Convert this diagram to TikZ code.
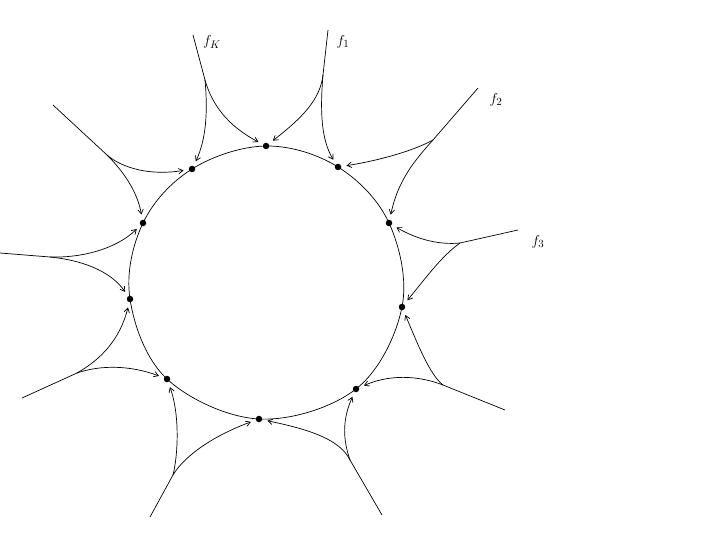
\documentclass[tikz,border=0pt]{standalone}
\usetikzlibrary{arrows.meta}
\begin{document}
\begin{tikzpicture}[x=1pt,y=-1pt,line width=0.7pt,
  dot/.style={circle,fill,inner sep=0pt,minimum size=6.5pt},
  arr/.style={-{Straight Barb[length=4.5pt,width=5.5pt]},shorten >=5pt},
  lbl/.style={font=\fontsize{15}{17}\selectfont}]
\useasboundingbox (0,0) rectangle (711,534);
% dots on the ring
\node[dot] (A) at (266,146) {};
\node[dot] (B) at (338,167) {};
\node[dot] (C) at (389,223) {};
\node[dot] (D) at (402,307) {};
\node[dot] (E) at (356,389) {};
\node[dot] (F) at (259,419) {};
\node[dot] (G) at (167,379) {};
\node[dot] (H) at (130,299) {};
\node[dot] (I) at (143,223) {};
\node[dot] (J) at (192,169) {};
\draw plot[smooth cycle,tension=0.6] coordinates {(266,146) (338,167) (389,223) (402,307) (356,389) (259,419) (167,379) (130,299) (143,223) (192,169)};
% sources and branch points
\coordinate (S1) at (193,35);  \coordinate (Q1) at (205,80);
\coordinate (S2) at (328,30);  \coordinate (Q2) at (323,75);
\coordinate (S3) at (478,88);  \coordinate (Q3) at (433,140);
\coordinate (S4) at (518,230); \coordinate (Q4) at (460,243);
\coordinate (S5) at (505,410); \coordinate (Q5) at (443,385);
\coordinate (S6) at (382,515); \coordinate (Q6) at (350,460);
\coordinate (S7) at (150,517); \coordinate (Q7) at (173,475);
\coordinate (S8) at (22,398);  \coordinate (Q8) at (77,373);
\coordinate (S9) at (0,253);   \coordinate (Q9) at (50,257);
\coordinate (S10) at (53,105); \coordinate (Q10) at (107,155);
\foreach \i in {1,...,10} \draw (S\i) -- (Q\i);
% branches
\draw[arr] (Q1) .. controls (208,112) and (206,140) .. (J);
\draw[arr] (Q1) .. controls (212,105) and (228,126) .. (A);
\draw[arr] (Q2) .. controls (320,100) and (302,118) .. (A);
\draw[arr] (Q2) .. controls (320,110) and (321,140) .. (B);
\draw[arr] (Q3) .. controls (415,150) and (382,160) .. (B);
\draw[arr] (Q3) .. controls (415,160) and (398,180) .. (C);
\draw[arr] (Q4) .. controls (440,245) and (418,240) .. (C);
\draw[arr] (Q4) .. controls (442,256) and (428,275) .. (D);
\draw[arr] (Q5) .. controls (430,375) and (418,345) .. (D);
\draw[arr] (Q5) .. controls (425,378) and (395,372) .. (E);
\draw[arr] (Q6) .. controls (343,440) and (342,420) .. (E);
\draw[arr] (Q6) .. controls (340,440) and (312,430) .. (F);
\draw[arr] (Q7) .. controls (185,455) and (215,435) .. (F);
\draw[arr] (Q7) .. controls (178,455) and (180,415) .. (G);
\draw[arr] (Q8) .. controls (100,360) and (120,340) .. (H);
\draw[arr] (Q8) .. controls (100,365) and (130,365) .. (G);
\draw[arr] (Q9) .. controls (80,258) and (115,250) .. (I);
\draw[arr] (Q9) .. controls (80,260) and (110,270) .. (H);
\draw[arr] (Q10) .. controls (122,170) and (137,190) .. (I);
\draw[arr] (Q10) .. controls (122,168) and (150,176) .. (J);
% labels
\node[lbl] (LK) at (212,42) {$f_K$};
\node[lbl] (L1) at (343,42) {$f_1$};
\node[lbl] (L2) at (496,100) {$f_2$};
\node[lbl] (L3) at (538,242) {$f_3$};
\end{tikzpicture}
\end{document}
